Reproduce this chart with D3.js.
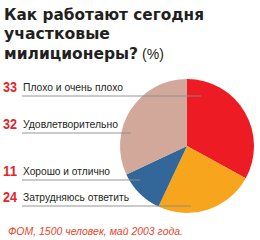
<!DOCTYPE html>
<html>
<head>
    <meta charset="utf-8">
    <script src="https://cdn.jsdelivr.net/npm/d3@7"></script>
    <style>
        body { margin: 0; background: #fff; }
    </style>
</head>
<body>
    <svg width="260" height="240" id="mainsvg"></svg>
    <script>
        // данные
        const categories = ['Плохо и очень плохо', 'Затрудняюсь ответить', 'Хорошо и отлично', 'Удовлетворительно'];
        const values = [33, 24, 11, 32];
        const colors = ['#ed1c24', '#f6a51c', '#336699', '#d2a89a'];
        // порядок подписей слева
        const labelOrder = ['Плохо и очень плохо', 'Удовлетворительно', 'Хорошо и отлично', 'Затрудняюсь ответить'];
        const labelY = [91, 128, 175, 201];
        const labelW = [100, 95, 87, 106];
        const lineEndX = [201, 131, 140, 191];

        const svg = d3.select('svg');
        const cx = 187, cy = 146, r = 67;

        // заголовок
        const title = svg.append('g').attr('font-family', 'DejaVu Sans').attr('font-weight', 'bold')
            .attr('fill', '#231f20').attr('font-size', 15.5);
        title.append('text').attr('x', 4).attr('y', 20).text('Как работают сегодня')
            .attr('textLength', 200).attr('lengthAdjust', 'spacingAndGlyphs');
        title.append('text').attr('x', 4).attr('y', 39).text('участковые')
            .attr('textLength', 106).attr('lengthAdjust', 'spacingAndGlyphs');
        const t3 = title.append('text').attr('x', 4).attr('y', 59);
        t3.append('tspan').text('милиционеры?');
        t3.append('tspan').attr('font-weight', 'normal').attr('font-family', 'Liberation Sans')
            .attr('font-size', 14).attr('dx', 4).text('(%)');

        // пирог
        const pie = d3.pie().sort(null).value(d => d);
        const arc = d3.arc().innerRadius(0).outerRadius(r);
        svg.append('g').attr('transform', `translate(${cx},${cy})`)
            .selectAll('path').data(pie(values)).join('path')
            .attr('d', arc)
            .attr('fill', (d, i) => colors[i]);

        // подписи
        const rows = svg.append('g');
        labelOrder.forEach((name, i) => {
            const v = values[categories.indexOf(name)];
            const y = labelY[i];
            rows.append('line')
                .attr('x1', 22).attr('x2', lineEndX[i])
                .attr('y1', y + 5).attr('y2', y + 5)
                .attr('stroke', '#8a8a8a').attr('stroke-width', 0.9);
            rows.append('text')
                .attr('x', 3).attr('y', y + 0.5)
                .attr('font-family', 'Liberation Sans Narrow, Liberation Sans')
                .attr('font-weight', 'bold').attr('font-size', 15)
                .attr('fill', '#e3262b')
                .attr('textLength', 14).attr('lengthAdjust', 'spacingAndGlyphs')
                .text(v);
            rows.append('text')
                .attr('x', 23).attr('y', y)
                .attr('font-family', 'Liberation Sans Narrow, Liberation Sans')
                .attr('font-size', 11).attr('fill', '#231f20')
                .attr('textLength', labelW[i]).attr('lengthAdjust', 'spacingAndGlyphs')
                .text(name);
        });

        // источник
        svg.append('text')
            .attr('x', 8).attr('y', 235)
            .attr('font-family', 'Liberation Sans Narrow, Liberation Sans')
            .attr('font-style', 'italic').attr('font-size', 10.5)
            .attr('fill', '#e8452a')
            .attr('textLength', 175).attr('lengthAdjust', 'spacingAndGlyphs')
            .text('ФОМ, 1500 человек, май 2003 года.');
    </script>
</body>
</html>
